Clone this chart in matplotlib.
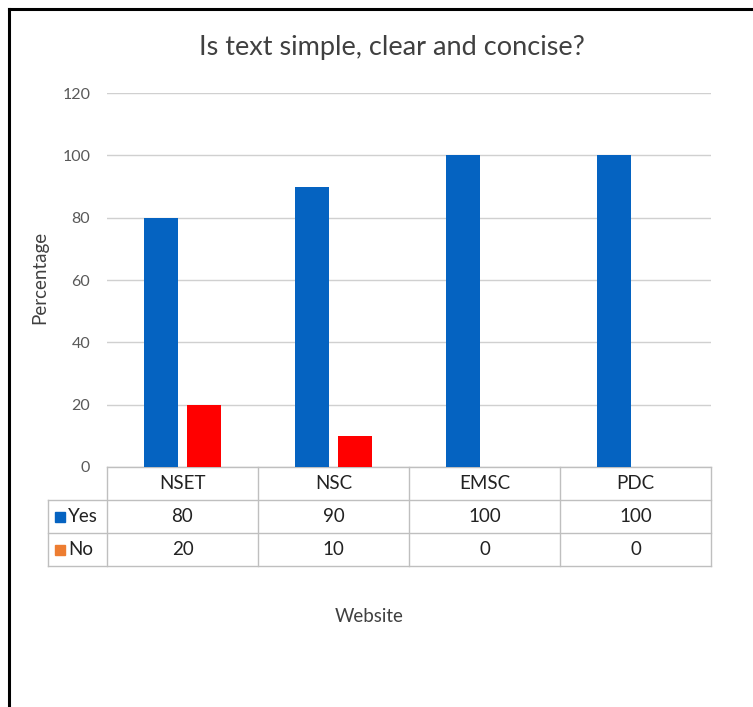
import matplotlib
matplotlib.use("Agg")
import matplotlib.pyplot as plt
from matplotlib.transforms import blended_transform_factory
from matplotlib.patches import Rectangle
from matplotlib.lines import Line2D

plt.rcParams['font.family'] = ['Lato', 'DejaVu Sans']

categories = ["NSET", "NSC", "EMSC", "PDC"]
yes_values = [80, 90, 100, 100]
no_values = [20, 10, 0, 0]
series_names = ["Yes", "No"]
yticks = [0, 20, 40, 60, 80, 100, 120]

title = "Is text simple, clear and concise?"
ylabel = "Percentage"
xlabel = "Website"

blue = "#0563C1"
red = "#FF0000"
legend_no = "#ED7D31"
grid_c = "#D0D0D0"
table_c = "#BFBFBF"
text_c = "#595959"
title_c = "#404040"
cell_c = "#222222"

W, H = 753, 707
fig = plt.figure(figsize=(W / 100, H / 100), dpi=100)

def fx(px):
    return px / W

def fy(py):
    return 1 - py / H

ax_left, ax_right, ax_top, ax_bot = 107, 711, 93, 467
ax = fig.add_axes([fx(ax_left), fy(ax_bot), fx(ax_right - ax_left), (ax_bot - ax_top) / H])

x = list(range(len(categories)))
bw = 0.225
off = 0.143
ax.bar([i - off for i in x], yes_values, width=bw, color=blue, zorder=3)
ax.bar([i + off for i in x], no_values, width=bw, color=red, zorder=3)

ax.set_xlim(-0.5, len(categories) - 0.5)
ax.set_ylim(0, 120)
ax.set_yticks(yticks)
ax.set_yticklabels([str(t) for t in yticks], color=text_c, fontsize=11.5)
ax.tick_params(axis='y', length=0, pad=12)
ax.set_xticks([])
for s in ax.spines.values():
    s.set_visible(False)
ax.yaxis.grid(True, color=grid_c, linewidth=1, zorder=0)
ax.set_axisbelow(True)

# data table beneath the plot
axh = ax_bot - ax_top
row_h = 33 / axh
tr = blended_transform_factory(ax.transData, ax.transAxes)
tra = ax.transAxes
leg_left = -(ax_left - 48) / (ax_right - ax_left)
x_lo, x_hi = -0.5, len(categories) - 0.5

def hline(y, x0, x1, transform):
    ax.add_line(Line2D([x0, x1], [y, y], color=table_c, lw=1, transform=transform, clip_on=False))

def vline(xv, y0, y1, transform):
    ax.add_line(Line2D([xv, xv], [y0, y1], color=table_c, lw=1, transform=transform, clip_on=False))

hline(0, x_lo, x_hi, tr)
for r in range(1, 4):
    hline(-r * row_h, leg_left, 1, tra)
for i in range(len(categories) + 1):
    vline(i - 0.5, 0, -3 * row_h, tr)
vline(leg_left, -row_h, -3 * row_h, tra)

fs_cell = 13.5
for i, c in enumerate(categories):
    ax.text(i, -0.5 * row_h, c, transform=tr, ha='center', va='center', fontsize=fs_cell, color=cell_c)
    ax.text(i, -1.5 * row_h, str(yes_values[i]), transform=tr, ha='center', va='center', fontsize=fs_cell, color=cell_c)
    ax.text(i, -2.5 * row_h, str(no_values[i]), transform=tr, ha='center', va='center', fontsize=fs_cell, color=cell_c)

sq = 10 / (ax_right - ax_left)
sqh = 10 / axh
for k, (name, col) in enumerate(zip(series_names, [blue, legend_no])):
    yc = -(1.5 + k) * row_h
    ax.add_patch(Rectangle((leg_left + 7 / (ax_right - ax_left), yc - sqh / 2), sq, sqh,
                           color=col, transform=tra, clip_on=False))
    ax.text(leg_left + 20 / (ax_right - ax_left), yc, name, transform=tra,
            ha='left', va='center', fontsize=fs_cell, color=cell_c)

fig.text(fx(392), fy(48), title, ha='center', va='center', fontsize=19.5, color=title_c)
fig.text(fx(40), fy(277), ylabel, ha='center', va='center', rotation=90, fontsize=13.5, color=title_c)
fig.text(fx(369), fy(616), xlabel, ha='center', va='center', fontsize=13.5, color=title_c)

# outer frame: top and left edges
fig.add_artist(Line2D([fx(9), fx(W)], [fy(9), fy(9)], color='black', lw=2.2, transform=fig.transFigure))
fig.add_artist(Line2D([fx(9), fx(9)], [fy(9), fy(H)], color='black', lw=2.2, transform=fig.transFigure))

fig.savefig("out.png", dpi=100, facecolor='white')
